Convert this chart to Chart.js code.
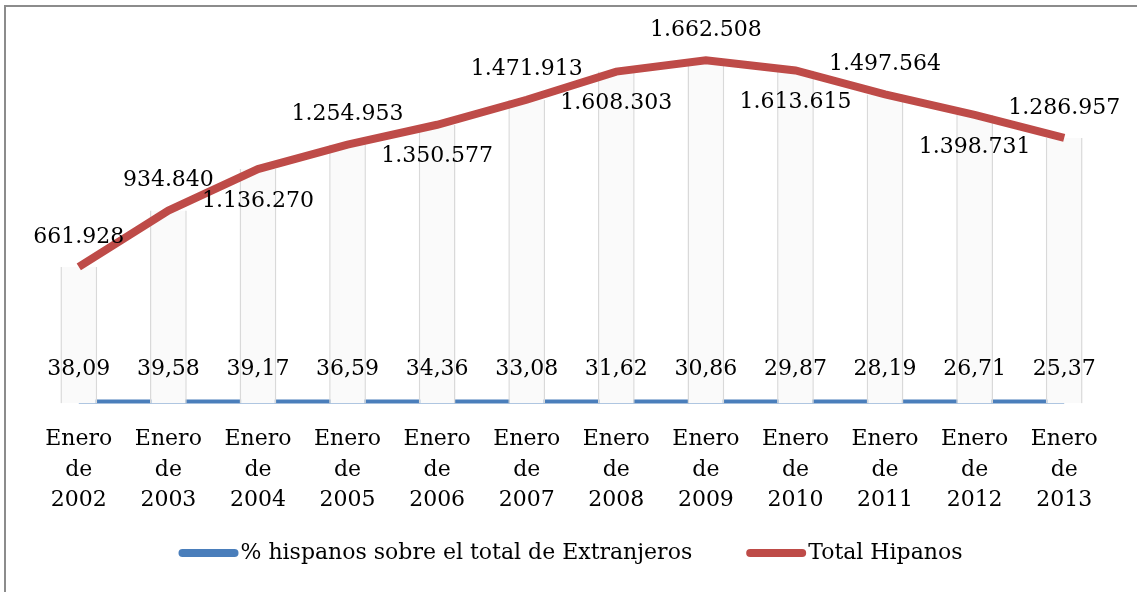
<!DOCTYPE html>
<html>
<head>
<meta charset="utf-8">
<script src="https://cdn.jsdelivr.net/npm/chart.js@4.4.0/dist/chart.umd.min.js"></script>
<style>
  body { margin: 0; background: #fff; overflow: hidden; }
  #frame { position: absolute; left: 4px; top: 5px; width: 1150px; height: 610px;
           border-left: 2px solid #8c8c8c; border-top: 2px solid #8c8c8c; }
  #wrap { position: absolute; left: 0; top: 0; width: 1137px; height: 592px; }
</style>
</head>
<body>
<div id="frame"></div>
<div id="wrap"><canvas id="chart"></canvas></div>
<script>
const years = ["2002","2003","2004","2005","2006","2007","2008","2009","2010","2011","2012","2013"];
const pctHispanos = [38.09, 39.58, 39.17, 36.59, 34.36, 33.08, 31.62, 30.86, 29.87, 28.19, 26.71, 25.37];
const totalHispanos = [661928, 934840, 1136270, 1254953, 1350577, 1471913, 1608303, 1662508, 1613615, 1497564, 1398731, 1286957];
const seriesNames = ["% hispanos sobre el total de Extranjeros", "Total Hipanos"];

// label above (true) or below (false) the red line
const redAbove = [true, true, false, true, false, true, false, true, false, true, false, true];

const FONT = "DejaVu Serif";
const BLUE = "#4a7ebb";
const RED = "#be4b48";

const fmtTotal = v => String(v).replace(/\B(?=(\d{3})+(?!\d))/g, ".");
const fmtPct = v => v.toFixed(2).replace(".", ",");

// DATA LABELS + LEGEND
const labelsPlugin = {
  id: "labelsPlugin",
  afterDraw(chart) {
    const ctx = chart.ctx;
    const blueMeta = chart.getDatasetMeta(0);
    const redMeta = chart.getDatasetMeta(2);
    ctx.save();
    ctx.font = "22px '" + FONT + "'";
    ctx.fillStyle = "#000";
    ctx.textAlign = "center";
    ctx.textBaseline = "middle";

    blueMeta.data.forEach((p, i) => {
      ctx.fillText(fmtPct(pctHispanos[i]), p.x, p.y - 34);
    });
    redMeta.data.forEach((p, i) => {
      ctx.fillText(fmtTotal(totalHispanos[i]), p.x, redAbove[i] ? p.y - 30 : p.y + 32);
    });

    // legend
    const items = [
      { text: seriesNames[0], color: BLUE },
      { text: seriesNames[1], color: RED }
    ];
    const swatch = 60, gap = 2, between = 54;
    let total = 0;
    items.forEach(it => { it.w = ctx.measureText(it.text).width; total += swatch + gap + it.w; });
    total += between;
    let x = (chart.width - total) / 2 + 2;
    const y = 553;
    ctx.textAlign = "left";
    items.forEach(it => {
      ctx.strokeStyle = it.color;
      ctx.lineWidth = 8;
      ctx.lineCap = "round";
      ctx.beginPath();
      ctx.moveTo(x + 4, y);
      ctx.lineTo(x + swatch - 4, y);
      ctx.stroke();
      ctx.fillText(it.text, x + swatch + gap, y);
      x += swatch + gap + it.w + between;
    });
    ctx.restore();
  }
};

new Chart(document.getElementById("chart"), {
  data: {
    labels: years.map(y => ["Enero", "de", y]),
    datasets: [
      {
        type: "line",
        label: seriesNames[0],
        data: pctHispanos,
        borderColor: BLUE,
        borderWidth: 8,
        pointRadius: 0,
        order: 3
      },
      {
        // white 3D-like columns under the red line
        type: "bar",
        label: "cols",
        data: totalHispanos,
        backgroundColor: "#fafafa",
        borderColor: "#d9d9d9",
        borderWidth: { left: 1.5, right: 1.5, top: 0, bottom: 0 },
        barPercentage: 0.41,
        categoryPercentage: 1,
        order: 2
      },
      {
        type: "line",
        label: seriesNames[1],
        data: totalHispanos,
        borderColor: RED,
        borderWidth: 8,
        pointRadius: 0,
        order: 1
      }
    ]
  },
  options: {
    responsive: true,
    maintainAspectRatio: false,
    animation: false,
    layout: { padding: { left: 34, right: 28, top: 32, bottom: 56 } },
    plugins: {
      legend: { display: false },
      tooltip: { enabled: false }
    },
    scales: {
      x: {
        grid: { display: false, drawTicks: false },
        border: { display: false },
        ticks: {
          color: "#000",
          font: { family: FONT, size: 22, lineHeight: 1.4 },
          padding: 20,
          autoSkip: false,
          maxRotation: 0
        }
      },
      y: {
        display: false,
        min: 0,
        max: 1800000
      }
    }
  },
  plugins: [labelsPlugin]
});
</script>
</body>
</html>
